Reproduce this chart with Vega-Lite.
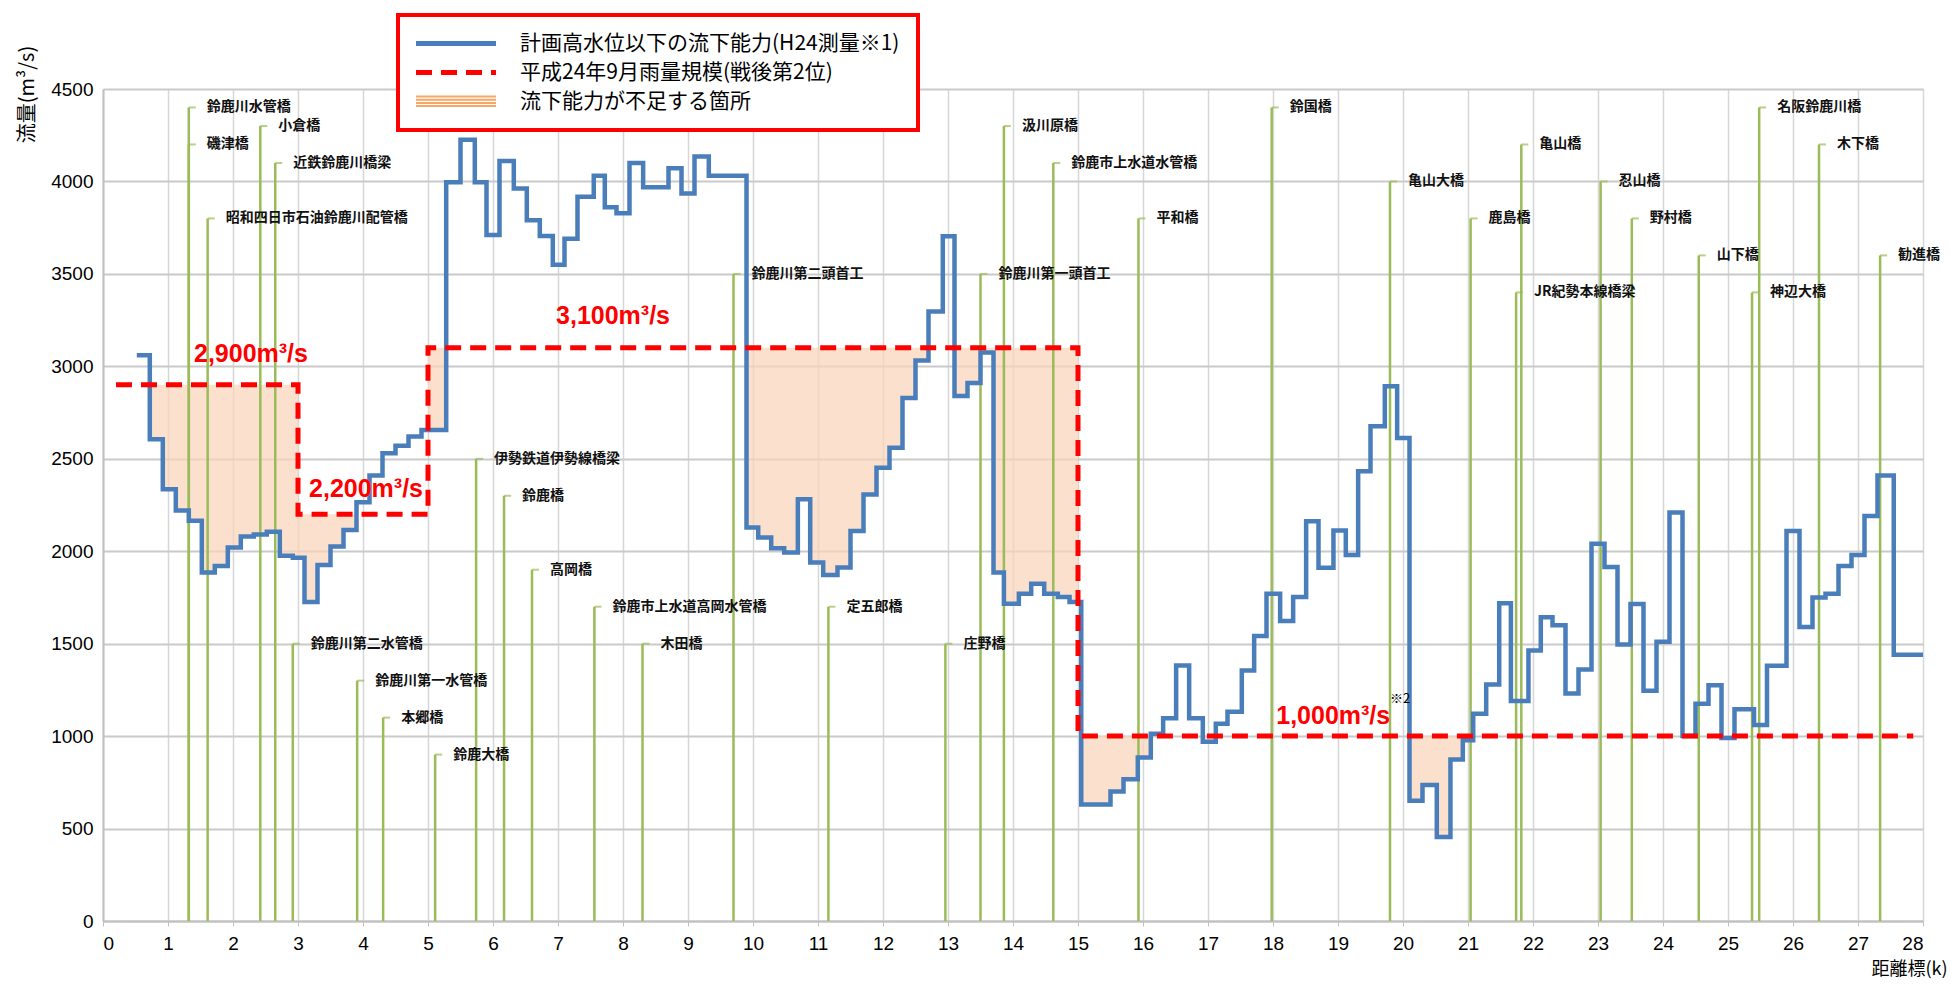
{
  "$schema": "https://vega.github.io/schema/vega-lite/v6.json",
  "width": 1820,
  "height": 832,
  "autosize": {"type": "none"},
  "padding": {"left": 103, "top": 89, "right": 28, "bottom": 70},
  "background": "white",
  "config": {"view": {"stroke": null}, "font": "Noto Sans CJK JP"},
  "datasets": {
    "capacity": [
      {"km": 0.52, "v": 3060}, {"km": 0.72, "v": 2605}, {"km": 0.92, "v": 2335}, {"km": 1.12, "v": 2220},
      {"km": 1.32, "v": 2165}, {"km": 1.52, "v": 1885}, {"km": 1.72, "v": 1920}, {"km": 1.92, "v": 2020},
      {"km": 2.12, "v": 2080}, {"km": 2.32, "v": 2090}, {"km": 2.52, "v": 2105}, {"km": 2.72, "v": 1975},
      {"km": 2.92, "v": 1965}, {"km": 3.1, "v": 1725}, {"km": 3.3, "v": 1925}, {"km": 3.5, "v": 2025},
      {"km": 3.7, "v": 2115}, {"km": 3.9, "v": 2265}, {"km": 4.1, "v": 2410}, {"km": 4.3, "v": 2530},
      {"km": 4.5, "v": 2570}, {"km": 4.7, "v": 2620}, {"km": 4.9, "v": 2655}, {"km": 5.28, "v": 3995},
      {"km": 5.5, "v": 4226}, {"km": 5.72, "v": 3995}, {"km": 5.9, "v": 3711}, {"km": 6.1, "v": 4110},
      {"km": 6.32, "v": 3962}, {"km": 6.52, "v": 3790}, {"km": 6.72, "v": 3705}, {"km": 6.92, "v": 3550},
      {"km": 7.1, "v": 3690}, {"km": 7.3, "v": 3917}, {"km": 7.55, "v": 4031}, {"km": 7.72, "v": 3860},
      {"km": 7.9, "v": 3828}, {"km": 8.1, "v": 4100}, {"km": 8.31, "v": 3969}, {"km": 8.7, "v": 4072},
      {"km": 8.9, "v": 3935}, {"km": 9.1, "v": 4135}, {"km": 9.32, "v": 4031}, {"km": 9.9, "v": 2128},
      {"km": 10.08, "v": 2074}, {"km": 10.28, "v": 2016}, {"km": 10.48, "v": 1993}, {"km": 10.69, "v": 2281},
      {"km": 10.88, "v": 1939}, {"km": 11.08, "v": 1872}, {"km": 11.3, "v": 1912}, {"km": 11.5, "v": 2110},
      {"km": 11.7, "v": 2307}, {"km": 11.9, "v": 2451}, {"km": 12.1, "v": 2559}, {"km": 12.3, "v": 2829},
      {"km": 12.5, "v": 3031}, {"km": 12.7, "v": 3297}, {"km": 12.92, "v": 3704}, {"km": 13.1, "v": 2840},
      {"km": 13.3, "v": 2910}, {"km": 13.5, "v": 3075}, {"km": 13.7, "v": 1885}, {"km": 13.86, "v": 1716},
      {"km": 14.09, "v": 1770}, {"km": 14.28, "v": 1824}, {"km": 14.48, "v": 1770}, {"km": 14.69, "v": 1752},
      {"km": 14.87, "v": 1725}, {"km": 15.05, "v": 630}, {"km": 15.5, "v": 700}, {"km": 15.7, "v": 767},
      {"km": 15.92, "v": 884}, {"km": 16.12, "v": 1013}, {"km": 16.31, "v": 1096}, {"km": 16.51, "v": 1382},
      {"km": 16.71, "v": 1096}, {"km": 16.92, "v": 970}, {"km": 17.12, "v": 1067}, {"km": 17.3, "v": 1132},
      {"km": 17.52, "v": 1355}, {"km": 17.71, "v": 1541}, {"km": 17.9, "v": 1770}, {"km": 18.11, "v": 1622},
      {"km": 18.31, "v": 1752}, {"km": 18.51, "v": 2162}, {"km": 18.7, "v": 1910}, {"km": 18.93, "v": 2112},
      {"km": 19.12, "v": 1979}, {"km": 19.31, "v": 2433}, {"km": 19.5, "v": 2676}, {"km": 19.72, "v": 2892},
      {"km": 19.91, "v": 2613}, {"km": 20.1, "v": 650}, {"km": 20.3, "v": 736}, {"km": 20.52, "v": 454},
      {"km": 20.73, "v": 874}, {"km": 20.92, "v": 978}, {"km": 21.08, "v": 1121}, {"km": 21.28, "v": 1279},
      {"km": 21.48, "v": 1718}, {"km": 21.66, "v": 1190}, {"km": 21.93, "v": 1463}, {"km": 22.12, "v": 1643},
      {"km": 22.3, "v": 1600}, {"km": 22.5, "v": 1230}, {"km": 22.7, "v": 1360}, {"km": 22.9, "v": 2040},
      {"km": 23.1, "v": 1915}, {"km": 23.3, "v": 1495}, {"km": 23.5, "v": 1715}, {"km": 23.7, "v": 1245},
      {"km": 23.9, "v": 1510}, {"km": 24.1, "v": 2210}, {"km": 24.3, "v": 1000}, {"km": 24.5, "v": 1175},
      {"km": 24.7, "v": 1275}, {"km": 24.9, "v": 990}, {"km": 25.1, "v": 1145}, {"km": 25.4, "v": 1060},
      {"km": 25.6, "v": 1380}, {"km": 25.9, "v": 2110}, {"km": 26.1, "v": 1590}, {"km": 26.3, "v": 1750},
      {"km": 26.5, "v": 1770}, {"km": 26.7, "v": 1920}, {"km": 26.9, "v": 1980}, {"km": 27.1, "v": 2190},
      {"km": 27.3, "v": 2410}, {"km": 27.55, "v": 1440}, {"km": 28.0, "v": 1440}
    ],
    "design": [
      {"i": 1, "km": 0.2, "v": 2900}, {"i": 2, "km": 3.0, "v": 2900}, {"i": 3, "km": 3.0, "v": 2200},
      {"i": 4, "km": 5.0, "v": 2200}, {"i": 5, "km": 5.0, "v": 3100}, {"i": 6, "km": 15.0, "v": 3100},
      {"i": 7, "km": 15.0, "v": 1000}, {"i": 8, "km": 27.85, "v": 1000}
    ],
    "shortfall": [
      {"r": "a", "km": 0.72, "lo": 2605, "hi": 2900}, {"r": "a", "km": 0.92, "lo": 2335, "hi": 2900},
      {"r": "a", "km": 1.12, "lo": 2220, "hi": 2900}, {"r": "a", "km": 1.32, "lo": 2165, "hi": 2900},
      {"r": "a", "km": 1.52, "lo": 1885, "hi": 2900}, {"r": "a", "km": 1.72, "lo": 1920, "hi": 2900},
      {"r": "a", "km": 1.92, "lo": 2020, "hi": 2900}, {"r": "a", "km": 2.12, "lo": 2080, "hi": 2900},
      {"r": "a", "km": 2.32, "lo": 2090, "hi": 2900}, {"r": "a", "km": 2.52, "lo": 2105, "hi": 2900},
      {"r": "a", "km": 2.72, "lo": 1975, "hi": 2900}, {"r": "a", "km": 2.92, "lo": 1965, "hi": 2900},
      {"r": "a", "km": 3.0, "lo": 1965, "hi": 2200}, {"r": "a", "km": 3.1, "lo": 1725, "hi": 2200},
      {"r": "a", "km": 3.3, "lo": 1925, "hi": 2200}, {"r": "a", "km": 3.5, "lo": 2025, "hi": 2200},
      {"r": "a", "km": 3.7, "lo": 2115, "hi": 2200}, {"r": "a", "km": 3.9, "lo": 2115, "hi": 2200},
      {"r": "b", "km": 5.0, "lo": 2655, "hi": 3100}, {"r": "b", "km": 5.28, "lo": 2655, "hi": 3100},
      {"r": "c", "km": 9.9, "lo": 2128, "hi": 3100}, {"r": "c", "km": 10.08, "lo": 2074, "hi": 3100},
      {"r": "c", "km": 10.28, "lo": 2016, "hi": 3100}, {"r": "c", "km": 10.48, "lo": 1993, "hi": 3100},
      {"r": "c", "km": 10.69, "lo": 2281, "hi": 3100}, {"r": "c", "km": 10.88, "lo": 1939, "hi": 3100},
      {"r": "c", "km": 11.08, "lo": 1872, "hi": 3100}, {"r": "c", "km": 11.3, "lo": 1912, "hi": 3100},
      {"r": "c", "km": 11.5, "lo": 2110, "hi": 3100}, {"r": "c", "km": 11.7, "lo": 2307, "hi": 3100},
      {"r": "c", "km": 11.9, "lo": 2451, "hi": 3100}, {"r": "c", "km": 12.1, "lo": 2559, "hi": 3100},
      {"r": "c", "km": 12.3, "lo": 2829, "hi": 3100}, {"r": "c", "km": 12.5, "lo": 3031, "hi": 3100},
      {"r": "c", "km": 12.7, "lo": 3031, "hi": 3100},
      {"r": "d", "km": 13.1, "lo": 2840, "hi": 3100}, {"r": "d", "km": 13.3, "lo": 2910, "hi": 3100},
      {"r": "d", "km": 13.5, "lo": 3075, "hi": 3100}, {"r": "d", "km": 13.7, "lo": 1885, "hi": 3100},
      {"r": "d", "km": 13.86, "lo": 1716, "hi": 3100}, {"r": "d", "km": 14.09, "lo": 1770, "hi": 3100},
      {"r": "d", "km": 14.28, "lo": 1824, "hi": 3100}, {"r": "d", "km": 14.48, "lo": 1770, "hi": 3100},
      {"r": "d", "km": 14.69, "lo": 1752, "hi": 3100}, {"r": "d", "km": 14.87, "lo": 1725, "hi": 3100},
      {"r": "d", "km": 15.0, "lo": 1725, "hi": 3100},
      {"r": "e", "km": 15.05, "lo": 630, "hi": 1000}, {"r": "e", "km": 15.5, "lo": 700, "hi": 1000},
      {"r": "e", "km": 15.7, "lo": 767, "hi": 1000}, {"r": "e", "km": 15.92, "lo": 884, "hi": 1000},
      {"r": "e", "km": 16.12, "lo": 884, "hi": 1000},
      {"r": "f", "km": 16.92, "lo": 970, "hi": 1000}, {"r": "f", "km": 17.12, "lo": 970, "hi": 1000},
      {"r": "g", "km": 20.1, "lo": 650, "hi": 1000}, {"r": "g", "km": 20.3, "lo": 736, "hi": 1000},
      {"r": "g", "km": 20.52, "lo": 454, "hi": 1000}, {"r": "g", "km": 20.73, "lo": 874, "hi": 1000},
      {"r": "g", "km": 20.92, "lo": 978, "hi": 1000}, {"r": "g", "km": 21.08, "lo": 978, "hi": 1000}
    ],
    "bridges": [
      {"km": 1.32, "v": 4400, "name": "鈴鹿川水管橋"},
      {"km": 1.32, "v": 4200, "name": "磯津橋"},
      {"km": 1.61, "v": 3800, "name": "昭和四日市石油鈴鹿川配管橋"},
      {"km": 2.42, "v": 4300, "name": "小倉橋"},
      {"km": 2.65, "v": 4100, "name": "近鉄鈴鹿川橋梁"},
      {"km": 2.92, "v": 1500, "name": "鈴鹿川第二水管橋"},
      {"km": 3.91, "v": 1300, "name": "鈴鹿川第一水管橋"},
      {"km": 4.31, "v": 1100, "name": "本郷橋"},
      {"km": 5.11, "v": 900, "name": "鈴鹿大橋"},
      {"km": 5.74, "v": 2500, "name": "伊勢鉄道伊勢線橋梁"},
      {"km": 6.17, "v": 2300, "name": "鈴鹿橋"},
      {"km": 6.6, "v": 1900, "name": "高岡橋"},
      {"km": 7.56, "v": 1700, "name": "鈴鹿市上水道高岡水管橋"},
      {"km": 8.3, "v": 1500, "name": "木田橋"},
      {"km": 9.7, "v": 3500, "name": "鈴鹿川第二頭首工"},
      {"km": 11.16, "v": 1700, "name": "定五郎橋"},
      {"km": 12.96, "v": 1500, "name": "庄野橋"},
      {"km": 13.5, "v": 3500, "name": "鈴鹿川第一頭首工"},
      {"km": 13.86, "v": 4300, "name": "汲川原橋"},
      {"km": 14.62, "v": 4100, "name": "鈴鹿市上水道水管橋"},
      {"km": 15.93, "v": 3800, "name": "平和橋"},
      {"km": 17.98, "v": 4400, "name": "鈴国橋"},
      {"km": 19.8, "v": 4000, "name": "亀山大橋"},
      {"km": 21.04, "v": 3800, "name": "鹿島橋"},
      {"km": 21.74, "v": 3400, "name": "JR紀勢本線橋梁"},
      {"km": 21.82, "v": 4200, "name": "亀山橋"},
      {"km": 23.04, "v": 4000, "name": "忍山橋"},
      {"km": 23.52, "v": 3800, "name": "野村橋"},
      {"km": 24.55, "v": 3600, "name": "山下橋"},
      {"km": 25.37, "v": 3400, "name": "神辺大橋"},
      {"km": 25.48, "v": 4400, "name": "名阪鈴鹿川橋"},
      {"km": 26.4, "v": 4200, "name": "木下橋"},
      {"km": 27.34, "v": 3600, "name": "勧進橋"}
    ],
    "notes": [
      {"km": 1.4, "v": 3065, "t": "2,900m³/s"},
      {"km": 3.17, "v": 2335, "t": "2,200m³/s"},
      {"km": 6.97, "v": 3270, "t": "3,100m³/s"},
      {"km": 18.05, "v": 1108, "t": "1,000m³/s"}
    ],
    "marks": [
      {"km": 19.8, "v": 1200, "t": "※2"}
    ]
  },
  "layer": [
    {
      "data": {"name": "shortfall"},
      "mark": {"type": "area", "interpolate": "step-after", "color": "#FAD6BA", "opacity": 0.72},
      "encoding": {
        "x": {
          "field": "km", "type": "quantitative",
          "scale": {"domain": [0, 28], "nice": false},
          "axis": {
            "title": "距離標(k)", "tickCount": 28, "grid": true, "gridColor": "#D6D6D6", "gridWidth": 1.5,
            "domainColor": "#C0C0C0", "domainWidth": 2, "tickColor": "#C0C0C0", "tickSize": 5,
            "labelFont": "Liberation Sans Narrow, Liberation Sans", "labelFontSize": 19, "labelColor": "#000",
            "labelPadding": 8,
            "titleFont": "Noto Sans CJK JP", "titleFontSize": 18, "titleFontWeight": "normal", "titleColor": "#000",
            "titleX": 1844, "titleY": 48, "titleAlign": "right", "titleBaseline": "middle", "titleAnchor": null
          }
        },
        "y": {
          "field": "lo", "type": "quantitative",
          "scale": {"domain": [0, 4500], "nice": false},
          "axis": {
            "title": "流量(m³/s)", "tickCount": 9, "format": "d", "grid": true, "gridColor": "#CACACA", "gridWidth": 2.2,
            "domainColor": "#C0C0C0", "domainWidth": 2, "ticks": false,
            "labelFont": "Liberation Sans Narrow, Liberation Sans", "labelFontSize": 19, "labelColor": "#000",
            "labelPadding": 10,
            "titleFont": "Noto Sans CJK JP", "titleFontSize": 20, "titleFontWeight": "normal", "titleColor": "#000",
            "titleX": -76, "titleY": 5, "titleAlign": "center", "titleBaseline": "middle", "titleAngle": -90, "titleAnchor": null
          }
        },
        "y2": {"field": "hi"},
        "detail": {"field": "r"}
      }
    },
    {
      "data": {"name": "bridges"},
      "mark": {"type": "rule", "color": "#9BBB59", "strokeWidth": 2.5},
      "encoding": {
        "x": {"field": "km", "type": "quantitative"},
        "y": {"field": "v", "type": "quantitative"},
        "y2": {"datum": 0}
      }
    },
    {
      "data": {"name": "bridges"},
      "mark": {"type": "tick", "orient": "horizontal", "color": "#9BBB59", "size": 7, "thickness": 2, "xOffset": 3.5},
      "encoding": {
        "x": {"field": "km", "type": "quantitative"},
        "y": {"field": "v", "type": "quantitative"}
      }
    },
    {
      "data": {"name": "bridges"},
      "mark": {"type": "text", "align": "left", "baseline": "middle", "dx": 18, "font": "Noto Sans CJK JP", "fontWeight": "bold", "fontSize": 14, "color": "#111"},
      "encoding": {
        "x": {"field": "km", "type": "quantitative"},
        "y": {"field": "v", "type": "quantitative"},
        "text": {"field": "name"}
      }
    },
    {
      "data": {"name": "capacity"},
      "mark": {"type": "line", "interpolate": "step-after", "strokeWidth": 4.5, "strokeJoin": "miter"},
      "encoding": {
        "x": {"field": "km", "type": "quantitative"},
        "y": {"field": "v", "type": "quantitative"},
        "color": {
          "datum": "計画高水位以下の流下能力(H24測量※1)",
          "type": "nominal",
          "scale": {
            "domain": ["計画高水位以下の流下能力(H24測量※1)", "平成24年9月雨量規模(戦後第2位)", "流下能力が不足する箇所"],
            "range": ["#4A7EBB", "#FF0000", "#F79646"]
          },
          "legend": {
            "orient": "none", "legendX": 295, "legendY": -74, "title": null,
            "symbolType": "stroke", "symbolSize": 6400, "symbolStrokeWidth": 5,
            "labelFont": "Noto Sans CJK JP", "labelFontSize": 21, "labelColor": "#000",
            "labelLimit": 700, "rowPadding": 7, "padding": 18,
            "strokeColor": "#FF0000", "fillColor": "#FFFFFF",
            "encode": {
              "legend": {"update": {"strokeWidth": {"value": 4}}},
              "symbols": {"update": {
                "x": {"value": 40},
                "shape": {"signal": "datum.value === '流下能力が不足する箇所' ? 'M-1,-0.15H1V-0.1H-1Z M-1,-0.07H1V-0.02H-1Z M-1,0.01H1V0.06H-1Z M-1,0.09H1V0.14H-1Z' : 'stroke'"},
                "fill": {"signal": "datum.value === '流下能力が不足する箇所' ? '#F8A766' : 'transparent'"},
                "strokeDash": {"signal": "datum.value === '平成24年9月雨量規模(戦後第2位)' ? [16, 9] : []"},
                "strokeWidth": {"signal": "datum.value === '流下能力が不足する箇所' ? 0 : 5"},
                "stroke": {"signal": "datum.value === '流下能力が不足する箇所' ? 'transparent' : (datum.value === '平成24年9月雨量規模(戦後第2位)' ? '#FF0000' : '#4A7EBB')"}
              }},
              "labels": {"update": {"x": {"value": 104}}}
            }
          }
        }
      }
    },
    {
      "data": {"name": "design"},
      "mark": {"type": "line", "strokeWidth": 5, "strokeDash": [16, 9]},
      "encoding": {
        "x": {"field": "km", "type": "quantitative"},
        "y": {"field": "v", "type": "quantitative"},
        "order": {"field": "i", "type": "quantitative"},
        "color": {"datum": "平成24年9月雨量規模(戦後第2位)", "type": "nominal"}
      }
    },
    {
      "data": {"name": "notes"},
      "mark": {"type": "text", "align": "left", "baseline": "middle", "font": "Liberation Sans", "fontWeight": "bold", "fontSize": 25, "color": "#FF0000"},
      "encoding": {
        "x": {"field": "km", "type": "quantitative"},
        "y": {"field": "v", "type": "quantitative"},
        "text": {"field": "t"}
      }
    },
    {
      "data": {"name": "marks"},
      "mark": {"type": "text", "align": "left", "baseline": "middle", "font": "Noto Sans CJK JP", "fontSize": 13, "color": "#000"},
      "encoding": {
        "x": {"field": "km", "type": "quantitative"},
        "y": {"field": "v", "type": "quantitative"},
        "text": {"field": "t"}
      }
    }
  ]
}
